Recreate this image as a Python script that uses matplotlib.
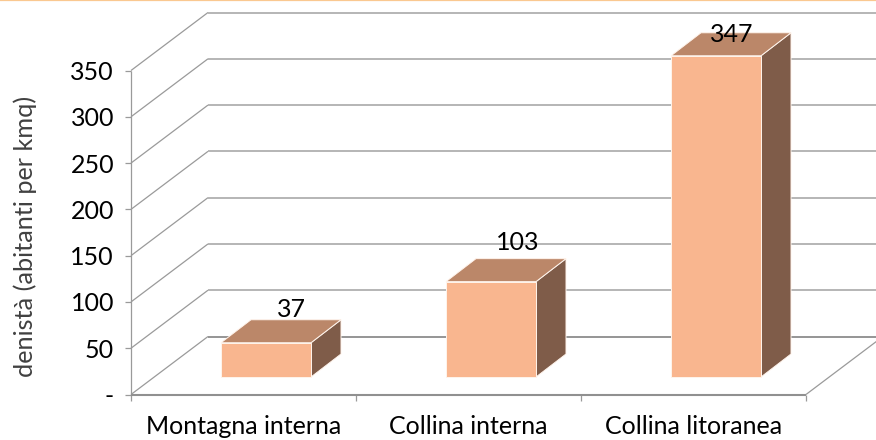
import matplotlib
matplotlib.use('Agg')
import matplotlib.pyplot as plt
from matplotlib.patches import Polygon
from matplotlib.lines import Line2D

categories = ['Montagna interna', 'Collina interna', 'Collina litoranea']
values = [37, 103, 347]
value_labels = ['37', '103', '347']
y_ticks = [0, 50, 100, 150, 200, 250, 300, 350]
y_tick_labels = ['-', '50', '100', '150', '200', '250', '300', '350']
y_title = 'denistà (abitanti per kmq)'

W, H = 876, 440
plt.rcParams['font.family'] = ['Lato', 'DejaVu Sans']
fig = plt.figure(figsize=(W / 100, H / 100), dpi=100)
L, R, T, B = 131.0, 806.0, 70.5, 394.5
ax = fig.add_axes([L / W, 1 - B / H, (R - L) / W, (B - T) / H])
ax.set_xlim(0, 3)
ax.set_ylim(0, 350)
ax.axis('off')
px = 3 / (R - L)          # data units per pixel, x
py = 350 / (B - T)        # data units per pixel, y
WALL_X, WALL_Y = 77 * px, 58 * py
GRID = '#9a9a9a'
FRONT, TOP, SIDE = '#F9B68F', '#BB8769', '#7F5C49'
label_dx = [25, 27, 16]   # pixels right of the bar centre
label_dy = [26, 32, 14]   # pixels above the bar's front top edge

def line(xs, ys, color=GRID, lw=1.0, z=1):
    ax.add_line(Line2D(xs, ys, color=color, lw=lw, zorder=z, clip_on=False, solid_capstyle='butt'))

for v in y_ticks:
    line([0, WALL_X], [v, v + WALL_Y], lw=0.9)
    line([WALL_X, 3 + WALL_X], [v + WALL_Y, v + WALL_Y], color='#b0b0b0' if v else '#8c8c8c', lw=1.3)
    line([-6 * px, 0], [v, v], lw=0.9)
    ax.text(-17 * px, v, y_tick_labels[v // 50], ha='right', va='center_baseline',
            fontsize=18, color='black', clip_on=False)
line([0, 0], [0, 350], lw=0.9)
line([0, 3], [0, 0], color='#909090', lw=1.5, z=2)
line([3, 3 + WALL_X], [0, WALL_Y], lw=0.9)
for i in range(4):
    line([i, i], [0, -6 * py], lw=0.9)

BAR_W, DX, DY, OFF_X, OFF_Y = 90 * px, 30 * px, 23 * py, 22.5 * px, 17.5 * py
for i, (c, v, lab) in enumerate(zip(categories, values, value_labels)):
    x0 = i + 0.5 + OFF_X - BAR_W / 2
    x1 = x0 + BAR_W
    y0, y1 = OFF_Y, OFF_Y + v
    for pts, col in (
        ([(x1, y0), (x1 + DX, y0 + DY), (x1 + DX, y1 + DY), (x1, y1)], SIDE),
        ([(x0, y1), (x1, y1), (x1 + DX, y1 + DY), (x0 + DX, y1 + DY)], TOP),
        ([(x0, y0), (x1, y0), (x1, y1), (x0, y1)], FRONT),
    ):
        ax.add_patch(Polygon(pts, closed=True, facecolor=col, edgecolor='#fff4ec', lw=0.7,
                             zorder=4, clip_on=False, joinstyle='miter'))
    ax.text(i + 0.5 + OFF_X + label_dx[i] * px, y1 + label_dy[i] * py, lab, ha='center', va='baseline',
            fontsize=18, color='black', zorder=6, clip_on=False)
    ax.text(i + 0.5, -30 * py, c, ha='center', va='center_baseline',
            fontsize=18, color='black', clip_on=False)

fig.text(25 / W, 1 - 236.5 / H, y_title, rotation=90, ha='center', va='center',
         fontsize=18.2, color='#404040')
fig.add_artist(Line2D([0, 1], [1 - 0.5 / H] * 2, color='#FAC890', lw=1.6))
fig.savefig('out.png', dpi=100)
